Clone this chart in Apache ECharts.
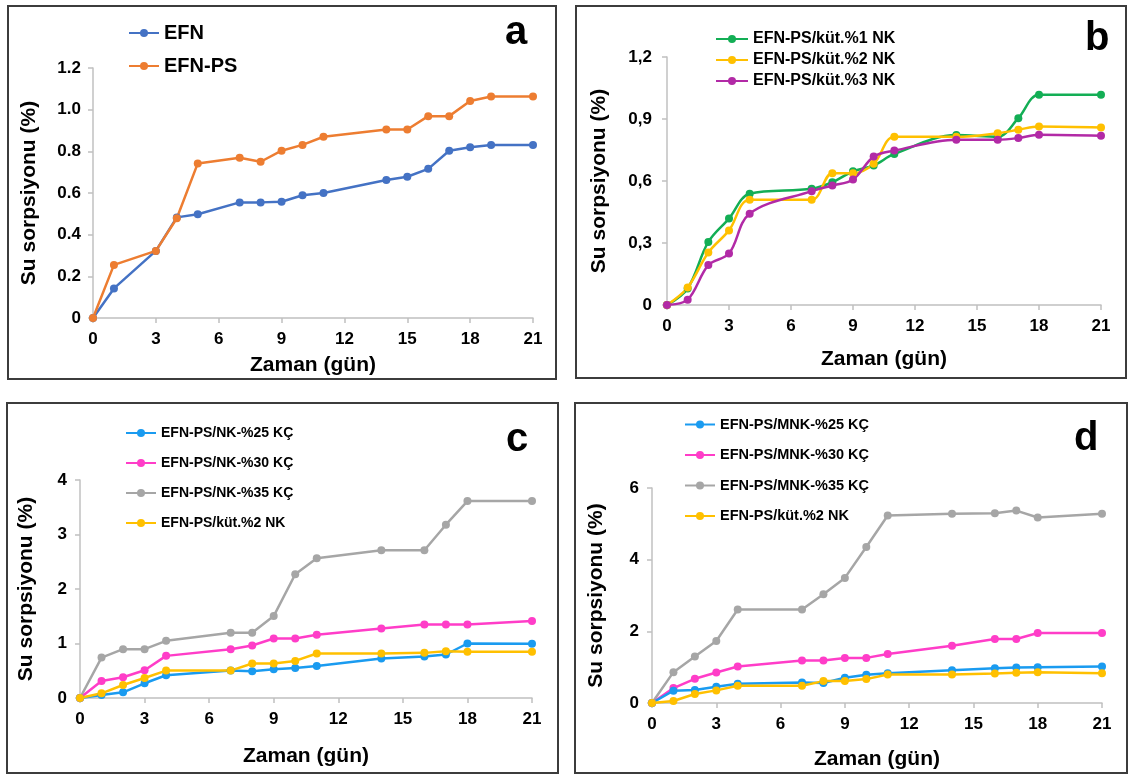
<!DOCTYPE html>
<html>
<head>
<meta charset="utf-8">
<script src="https://cdn.jsdelivr.net/npm/echarts@6/dist/echarts.min.js"></script>
<style>
html,body{margin:0;padding:0;background:#fff;}
#chart{width:1129px;height:775px;}
</style>
</head>
<body>
<div id="chart"></div>
<script>
// ---- Data ----
const daysA = [0,1,3,4,5,7,8,9,10,11,14,15,16,17,18,19,21];
const efn   = [0,0.142,0.322,0.483,0.498,0.555,0.555,0.558,0.589,0.600,0.662,0.678,0.716,0.803,0.820,0.830,0.830];
const efnPs = [0,0.255,0.322,0.479,0.742,0.769,0.750,0.803,0.831,0.870,0.905,0.905,0.969,0.969,1.042,1.063,1.063];

const daysB = [0,1,2,3,4,7,8,9,10,11,14,16,17,18,21];
const nk1 = [0,0.080,0.305,0.418,0.538,0.562,0.594,0.647,0.675,0.731,0.822,0.814,0.904,1.017,1.017];
const nk2 = [0,0.085,0.254,0.361,0.509,0.509,0.638,0.638,0.683,0.814,0.814,0.831,0.848,0.864,0.859];
const nk3 = [0,0.026,0.193,0.249,0.442,0.551,0.578,0.607,0.718,0.747,0.800,0.800,0.808,0.824,0.819];

const daysC = [0,1,2,3,4,7,8,9,10,11,14,16,17,18,21];
const nkKc25 = [0,0.055,0.104,0.270,0.417,0.503,0.490,0.528,0.552,0.589,0.724,0.761,0.798,1.000,0.994];
const nkKc30 = [0,0.313,0.380,0.509,0.773,0.896,0.963,1.092,1.092,1.160,1.276,1.350,1.350,1.350,1.411];
const nkKc35 = [0,0.742,0.896,0.896,1.049,1.196,1.196,1.503,2.270,2.564,2.710,2.710,3.180,3.613,3.613];
const nk2C   = [0,0.086,0.239,0.368,0.503,0.503,0.632,0.632,0.681,0.816,0.816,0.828,0.859,0.847,0.847];

const daysD = [0,1,2,3,4,7,8,9,10,11,14,16,17,18,21];
const mnkKc25 = [0,0.343,0.361,0.454,0.537,0.574,0.556,0.704,0.787,0.833,0.917,0.972,0.991,1.000,1.019];
const mnkKc30 = [0,0.417,0.676,0.852,1.019,1.185,1.185,1.259,1.259,1.370,1.600,1.787,1.787,1.954,1.954];
const mnkKc35 = [0,0.861,1.296,1.731,2.611,2.611,3.037,3.491,4.352,5.231,5.278,5.296,5.370,5.176,5.278];
const nk2D    = [0,0.056,0.250,0.352,0.481,0.481,0.611,0.611,0.667,0.796,0.796,0.824,0.843,0.861,0.833];

const namesA = ['EFN','EFN-PS'];
const namesB = ['EFN-PS/küt.%1 NK','EFN-PS/küt.%2 NK','EFN-PS/küt.%3 NK'];
const namesC = ['EFN-PS/NK-%25 KÇ','EFN-PS/NK-%30 KÇ','EFN-PS/NK-%35 KÇ','EFN-PS/küt.%2 NK'];
const namesD = ['EFN-PS/MNK-%25 KÇ','EFN-PS/MNK-%30 KÇ','EFN-PS/MNK-%35 KÇ','EFN-PS/küt.%2 NK'];
const panelLetters = ['a','b','c','d'];
const xName = 'Zaman (gün)';
const yName = 'Su sorpsiyonu (%)';

// ---- Build ----
const FONT = '"Liberation Sans", Arial, sans-serif';
const pair = (xs, ys) => xs.map((x, i) => [x, ys[i]]);

const grids = [
  {left:93, top:68, width:440, height:250},
  {left:667, top:57, width:434, height:248},
  {left:80, top:480, width:452, height:218},
  {left:652, top:488, width:450, height:215}
];
const xNameGap = [37, 44, 48, 46];
const yNameGap = [53, 57, 43, 45];
const yLabelMargin = [12, 15, 13, 13];
const yCfg = [
  {max:1.2, interval:0.2, fmt:v => v === 0 ? '0' : v.toFixed(1)},
  {max:1.2, interval:0.3, fmt:v => v === 0 ? '0' : v.toFixed(1).replace('.', ',')},
  {max:4, interval:1, fmt:v => String(v)},
  {max:6, interval:2, fmt:v => String(v)}
];
const axisGray = '#c0c0c0';

const xAxes = grids.map((g, i) => ({
  type:'value', gridIndex:i, min:0, max:21, interval:3,
  name:xName, nameLocation:'middle', nameGap:xNameGap[i],
  nameTextStyle:{fontFamily:FONT, fontWeight:'bold', fontSize:21, color:'#000'},
  axisLine:{show:true, lineStyle:{color:axisGray, width:1.5}},
  axisTick:{show:true, length:5, lineStyle:{color:axisGray, width:1.5}},
  axisLabel:{fontFamily:FONT, fontWeight:'bold', fontSize:17, color:'#000', margin:13},
  splitLine:{show:false}
}));
const yAxes = grids.map((g, i) => ({
  type:'value', gridIndex:i, min:0, max:yCfg[i].max, interval:yCfg[i].interval,
  name:yName, nameLocation:'middle', nameGap:yNameGap[i], nameRotate:90,
  nameTextStyle:{fontFamily:FONT, fontWeight:'bold', fontSize:21, color:'#000'},
  axisLine:{show:true, lineStyle:{color:axisGray, width:1.5}},
  axisTick:{show:true, length:5, lineStyle:{color:axisGray, width:1.5}},
  axisLabel:{fontFamily:FONT, fontWeight:'bold', fontSize:17, color:'#000', margin:yLabelMargin[i], formatter:yCfg[i].fmt},
  splitLine:{show:false}
}));

function line(name, idx, xs, ys, color, smooth, size) {
  return {
    type:'line', name:name, xAxisIndex:idx, yAxisIndex:idx,
    data:pair(xs, ys), smooth:smooth ? 0.35 : false,
    symbol:'circle', symbolSize:size,
    lineStyle:{color:color, width:2.5}, itemStyle:{color:color},
    z: 3
  };
}
const BLUE='#4472C4', ORANGE='#ED7D31', GREEN='#13AE55', YELLOW='#FFC000', PURPLE='#B22AA6',
      CBLUE='#1A9BF0', PINK='#FF3DC8', GRAY='#A6A6A6';

const series = [
  line(namesA[0], 0, daysA, efn, BLUE, false, 8),
  line(namesA[1], 0, daysA, efnPs, ORANGE, false, 8),
  line(namesB[0], 1, daysB, nk1, GREEN, true, 8),
  line(namesB[1], 1, daysB, nk2, YELLOW, true, 8),
  line(namesB[2], 1, daysB, nk3, PURPLE, true, 8),
  line(namesC[2], 2, daysC, nkKc35, GRAY, false, 8),
  line(namesC[1], 2, daysC, nkKc30, PINK, false, 8),
  line(namesC[0], 2, daysC, nkKc25, CBLUE, false, 8),
  line(namesC[3], 2, daysC, nk2C, YELLOW, false, 8),
  line(namesD[2], 3, daysD, mnkKc35, GRAY, false, 8),
  line(namesD[1], 3, daysD, mnkKc30, PINK, false, 8),
  line(namesD[0], 3, daysD, mnkKc25, CBLUE, false, 8),
  line(namesD[3], 3, daysD, nk2D, YELLOW, false, 8)
];

function legend(names, left, top, fs, gap, iw) {
  return {
    orient:'vertical', left:left, top:top, data:names, itemGap:gap,
    itemWidth:iw, itemHeight:10, selectedMode:false,
    textStyle:{fontFamily:FONT, fontWeight:'bold', fontSize:fs, color:'#000'}
  };
}

function border(x, y, w, h) {
  return {type:'rect', shape:{x:x, y:y, width:w, height:h},
          style:{fill:'none', stroke:'#3c3c3c', lineWidth:2}, silent:true};
}
function letter(t, x, y) {
  return {type:'text', left:x, top:y,
          style:{text:t, font:'bold 40px ' + FONT, fill:'#000'}};
}

const option = {
  animation:false,
  backgroundColor:'#fff',
  grid: grids,
  xAxis: xAxes,
  yAxis: yAxes,
  legend: [
    legend(namesA, 123, 18, 20, 13, 30),
    legend(namesB, 710, 26, 16, 5, 32),
    legend(namesC, 120, 421, 14, 16, 30),
    legend(namesD, 679, 412, 14.5, 15.5, 30)
  ],
  series: series,
  graphic: [
    border(8, 6, 548, 373),
    border(576, 6, 550, 372),
    border(7, 403, 551, 370),
    border(575, 403, 552, 370),
    letter(panelLetters[0], 505, 13),
    letter(panelLetters[1], 1085, 19),
    letter(panelLetters[2], 506, 420),
    letter(panelLetters[3], 1074, 419)
  ]
};

const chart = echarts.init(document.getElementById('chart'), null, {renderer:'canvas'});
chart.setOption(option);
</script>
</body>
</html>
